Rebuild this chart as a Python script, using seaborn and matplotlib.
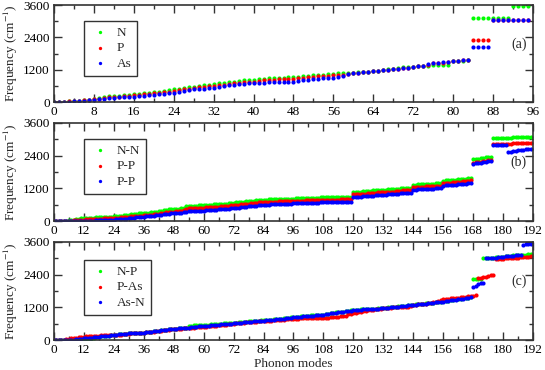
import pandas as pd
import matplotlib
matplotlib.use('Agg')
import matplotlib.pyplot as plt
from matplotlib.ticker import MultipleLocator
import seaborn as sns

# panel (a): single-atom layers, 96 modes
labels_a = ["N", "P", "As"]
freq_N = [0, 0, 0, 30, 40, 50, 60, 70, 110, 150, 195, 205,
          215, 230, 245, 265, 285, 300, 320, 340, 360, 390, 420, 440,
          470, 490, 520, 545, 570, 600, 630, 650, 670, 700, 720, 740,
          760, 790, 810, 820, 830, 850, 870, 880, 890, 900, 905, 915,
          925, 940, 960, 980, 1000, 1010, 1020, 1040, 1050, 1060, 1065, 1070,
          1080, 1100, 1110, 1130, 1150, 1170, 1190, 1210, 1230, 1260, 1290, 1305,
          1310, 1320, 1340, 1350, 1370, 1375, 1380, 1390, 1520, 1530, 1540, 1550,
          3130, 3130, 3130, 3130, 3130, 3130, 3130, 3130, 3550, 3550, 3550, 3550]
freq_P = [0, 0, 0, 20, 40, 50, 60, 70, 100, 130, 160, 175,
          185, 200, 215, 235, 250, 265, 280, 300, 320, 340, 365, 390,
          410, 440, 470, 500, 530, 550, 570, 590, 610, 630, 650, 670,
          690, 710, 730, 745, 760, 780, 800, 815, 830, 840, 850, 860,
          870, 885, 900, 920, 940, 950, 960, 975, 990, 1000, 1020, 1040,
          1060, 1080, 1100, 1120, 1140, 1160, 1180, 1200, 1215, 1230, 1250, 1270,
          1300, 1320, 1350, 1380, 1440, 1450, 1460, 1470, 1530, 1540, 1550, 1560,
          2300, 2300, 2300, 2300, 3040, 3040, 3040, 3040, 3040, 3040, 3040, 3040]
freq_As = [0, 0, 0, 10, 40, 50, 55, 65, 90, 110, 130, 150,
           165, 175, 185, 195, 200, 215, 230, 245, 265, 290, 310, 330,
           346, 380, 420, 445, 470, 485, 500, 508, 530, 560, 590, 620,
           640, 660, 680, 690, 695, 705, 715, 725, 735, 745, 750, 755,
           760, 780, 800, 820, 840, 860, 880, 900, 910, 940, 980, 1040,
           1060, 1080, 1100, 1120, 1140, 1160, 1180, 1200, 1215, 1230, 1250, 1270,
           1300, 1320, 1350, 1400, 1440, 1460, 1470, 1480, 1530, 1540, 1550, 1560,
           2050, 2050, 2050, 2050, 3040, 3040, 3040, 3040, 3040, 3040, 3040, 3040]

# panel (b): homo-bilayers, 192 modes
labels_b = ["N-N", "P-P", "P-P"]
freq_NN = [0, 0, 0, 0, 0, 0, 20, 40, 55, 70, 85, 100,
           105, 110, 115, 120, 125, 130, 135, 140, 145, 150, 155, 160,
           170, 180, 190, 200, 210, 220, 230, 245, 260, 270, 280, 285,
           290, 300, 310, 320, 330, 340, 350, 370, 390, 410, 425, 430,
           433, 440, 450, 460, 480, 540, 550, 555, 560, 565, 570, 575,
           580, 590, 600, 605, 610, 615, 620, 625, 630, 640, 650, 660,
           670, 680, 690, 700, 710, 720, 730, 740, 750, 760, 770, 775,
           780, 785, 790, 795, 800, 805, 810, 812, 815, 818, 820, 823,
           826, 830, 833, 836, 840, 843, 846, 850, 853, 856, 860, 863,
           866, 868, 870, 872, 874, 876, 878, 880, 882, 884, 886, 888,
           1065, 1070, 1075, 1080, 1085, 1090, 1100, 1110, 1120, 1130, 1140, 1145,
           1150, 1155, 1160, 1165, 1170, 1180, 1190, 1200, 1210, 1220, 1225, 1230,
           1336, 1340, 1345, 1350, 1355, 1360, 1365, 1370, 1375, 1380, 1385, 1390,
           1485, 1490, 1495, 1500, 1510, 1520, 1530, 1540, 1550, 1560, 1575, 1585,
           2264, 2275, 2290, 2305, 2320, 2335, 2345, 2350, 3043, 3045, 3048, 3050,
           3055, 3058, 3060, 3063, 3066, 3070, 3073, 3076, 3080, 3083, 3087, 3092]
freq_PP1 = [0, 0, 0, 0, 0, 0, 0, 10, 20, 30, 40, 50,
            55, 60, 65, 70, 75, 80, 85, 90, 95, 100, 105, 110,
            115, 120, 125, 130, 140, 150, 160, 170, 180, 190, 195, 200,
            205, 215, 225, 235, 245, 255, 265, 280, 300, 320, 335, 340,
            345, 350, 360, 370, 390, 450, 460, 465, 470, 475, 480, 485,
            490, 500, 510, 515, 520, 525, 530, 535, 540, 550, 560, 570,
            580, 590, 600, 610, 620, 630, 640, 650, 660, 670, 680, 685,
            690, 695, 700, 705, 710, 715, 720, 722, 725, 728, 730, 733,
            736, 740, 743, 746, 750, 753, 756, 760, 763, 766, 770, 773,
            776, 778, 780, 782, 784, 786, 788, 790, 792, 794, 796, 798,
            975, 980, 985, 990, 995, 1000, 1010, 1020, 1030, 1040, 1050, 1055,
            1060, 1065, 1070, 1075, 1080, 1090, 1100, 1110, 1120, 1130, 1135, 1140,
            1245, 1250, 1255, 1260, 1265, 1270, 1275, 1280, 1285, 1290, 1295, 1300,
            1395, 1400, 1405, 1410, 1420, 1430, 1440, 1450, 1460, 1470, 1485, 1495,
            2140, 2150, 2165, 2180, 2195, 2210, 2225, 2240, 2820, 2825, 2830, 2832,
            2835, 2838, 2840, 2843, 2846, 2850, 2853, 2856, 2860, 2863, 2866, 2870]
freq_PP2 = [0, 0, 0, 0, 0, 0, 0, 0, 0, 0, 0, 0,
            0, 0, 5, 10, 15, 20, 25, 30, 35, 40, 45, 50,
            55, 60, 65, 70, 80, 90, 100, 110, 120, 130, 140, 150,
            160, 170, 180, 190, 200, 210, 220, 230, 245, 260, 275, 285,
            290, 295, 300, 310, 330, 345, 355, 360, 365, 370, 375, 380,
            385, 395, 405, 410, 415, 420, 425, 430, 435, 445, 455, 465,
            475, 485, 495, 505, 515, 525, 535, 545, 555, 565, 575, 590,
            594, 600, 605, 610, 615, 620, 625, 628, 631, 634, 637, 640,
            643, 646, 650, 653, 656, 660, 663, 666, 670, 673, 676, 680,
            683, 686, 689, 692, 694, 696, 698, 700, 702, 704, 706, 708,
            880, 885, 890, 895, 900, 905, 915, 925, 935, 945, 955, 960,
            965, 970, 975, 980, 985, 995, 1005, 1015, 1025, 1035, 1040, 1045,
            1150, 1155, 1160, 1165, 1170, 1175, 1180, 1185, 1190, 1195, 1200, 1205,
            1299, 1305, 1310, 1315, 1325, 1335, 1345, 1355, 1365, 1375, 1385, 1398,
            2103, 2115, 2130, 2145, 2160, 2175, 2190, 2202, 2795, 2795, 2795, 2795,
            2795, 2795, 2536, 2550, 2560, 2575, 2590, 2600, 2615, 2630, 2645, 2661]

# panel (c): hetero-bilayers, 192 modes
labels_c = ["N-P", "P-As", "As-N"]
freq_NP = [0, 0, 0, 0, 0, 0, 0, 0, 0, 0, 0, 0,
           0, 0, 20, 50, 80, 100, 120, 130, 140, 150, 160, 170,
           185, 195, 205, 215, 225, 235, 245, 250, 255, 260, 265, 270,
           275, 290, 300, 310, 325, 335, 345, 355, 365, 380, 395, 405,
           412, 420, 430, 440, 450, 460, 520, 530, 540, 545, 550, 555,
           560, 565, 570, 575, 580, 590, 600, 605, 610, 615, 620, 625,
           630, 640, 650, 660, 670, 680, 690, 700, 705, 710, 715, 720,
           725, 730, 740, 750, 760, 770, 780, 790, 800, 810, 820, 830,
           840, 850, 860, 870, 880, 890, 900, 905, 910, 915, 920, 925,
           930, 945, 965, 985, 1005, 1015, 1025, 1035, 1045, 1055, 1070, 1090,
           1110, 1115, 1120, 1125, 1130, 1135, 1140, 1145, 1150, 1155, 1160, 1165,
           1175, 1185, 1195, 1205, 1215, 1225, 1235, 1245, 1255, 1265, 1275, 1285,
           1295, 1305, 1315, 1325, 1335, 1345, 1355, 1365, 1375, 1385, 1395, 1405,
           1415, 1430, 1445, 1460, 1475, 1490, 1505, 1515, 1525, 1540, 1555, 1575,
           2248, 2248, 2250, 2252, 3010, 3015, 3020, 3025, 3030, 3040, 3050, 3060,
           3065, 3075, 3085, 3095, 3105, 3115, 3125, 3130, 3135, 3140, 3145, 3150]
freq_PAs = [0, 0, 0, 0, 0, 20, 40, 60, 75, 90, 105, 115,
            122, 130, 140, 150, 155, 160, 165, 170, 175, 178, 180, 183,
            185, 190, 195, 200, 210, 220, 230, 240, 250, 258, 264, 268,
            271, 280, 290, 300, 310, 320, 330, 340, 350, 365, 380, 395,
            405, 410, 415, 420, 430, 440, 450, 455, 460, 465, 470, 475,
            480, 490, 500, 510, 520, 530, 540, 550, 560, 570, 580, 590,
            600, 610, 620, 630, 640, 650, 660, 665, 670, 680, 690, 695,
            700, 705, 710, 715, 720, 725, 730, 740, 750, 760, 770, 775,
            780, 785, 790, 792, 794, 796, 798, 799, 800, 800, 800, 800,
            800, 810, 820, 830, 840, 850, 860, 870, 880, 900, 940, 970,
            983, 1000, 1020, 1040, 1060, 1080, 1100, 1110, 1120, 1130, 1140, 1150,
            1160, 1170, 1180, 1190, 1200, 1205, 1210, 1215, 1220, 1225, 1230, 1240,
            1290, 1300, 1310, 1320, 1330, 1340, 1350, 1360, 1380, 1400, 1450, 1480,
            1500, 1510, 1520, 1530, 1540, 1550, 1560, 1570, 1580, 1590, 1600, 1610,
            1620, 1650, 2273, 2290, 2310, 2330, 2350, 2370, 2395, 2973, 2980, 2985,
            2990, 2995, 3000, 3010, 3015, 3020, 3030, 3040, 3045, 3050, 3060, 3071]
freq_AsN = [0, 0, 0, 0, 0, 0, 0, 0, 0, 20, 40, 55,
            62, 70, 80, 90, 100, 110, 120, 130, 140, 150, 160, 170,
            185, 195, 205, 215, 225, 235, 240, 245, 250, 255, 260, 265,
            271, 285, 300, 310, 320, 330, 340, 350, 360, 375, 390, 400,
            408, 415, 425, 435, 445, 455, 460, 470, 480, 490, 500, 505,
            510, 520, 530, 540, 550, 560, 570, 575, 580, 590, 600, 605,
            610, 620, 630, 640, 650, 660, 670, 680, 685, 690, 700, 705,
            711, 720, 730, 740, 750, 760, 770, 780, 790, 800, 810, 820,
            830, 840, 850, 860, 870, 880, 890, 895, 900, 905, 910, 915,
            921, 940, 960, 980, 1000, 1010, 1020, 1030, 1040, 1050, 1060, 1080,
            1105, 1110, 1115, 1120, 1125, 1130, 1135, 1140, 1145, 1150, 1155, 1160,
            1170, 1180, 1190, 1200, 1210, 1220, 1230, 1240, 1250, 1260, 1270, 1280,
            1290, 1300, 1310, 1320, 1330, 1340, 1350, 1360, 1370, 1380, 1390, 1400,
            1412, 1425, 1440, 1455, 1470, 1485, 1500, 1510, 1520, 1535, 1550, 1573,
            1964, 2000, 2040, 2080, 2112, 3010, 3015, 3020, 3025, 3030, 3040, 3050,
            3060, 3070, 3080, 3090, 3100, 3110, 3120, 3132, 3500, 3510, 3525, 3537]

colors = ["#00ff00", "#ff0000", "#0000ff"]

sns.set_style("ticks")
plt.rcParams['font.family'] = ['Liberation Serif', 'DejaVu Serif']
plt.rcParams['mathtext.fontset'] = 'stix'

fig = plt.figure(figsize=(5.45, 3.70), dpi=100)
panels = [
    ([freq_N, freq_P, freq_As], labels_a, 96, 8, "(a)", [0.099, 0.7243, 0.879, 0.262], 0.84),
    ([freq_NN, freq_PP1, freq_PP2], labels_b, 192, 12, "(b)", [0.099, 0.4027, 0.879, 0.265], 0.84),
    ([freq_NP, freq_PAs, freq_AsN], labels_c, 192, 12, "(c)", [0.099, 0.081, 0.879, 0.265], 0.82),
]

for series, labels, nmodes, step, tag, rect, leg_top in panels:
    ax = fig.add_axes(rect)
    for vals, lab, col in zip(series, labels, colors):
        df = pd.DataFrame({"mode": range(len(vals)), "freq": vals})
        sns.scatterplot(data=df, x="mode", y="freq", ax=ax, color=col, s=9,
                        linewidth=0, label=lab, legend=True)
    ax.set_xlim(0, nmodes)
    ax.set_ylim(0, 3600)
    ax.xaxis.set_major_locator(MultipleLocator(step))
    ax.xaxis.set_minor_locator(MultipleLocator(step / 2))
    ax.yaxis.set_major_locator(MultipleLocator(1200))
    ax.yaxis.set_minor_locator(MultipleLocator(600))
    ax.tick_params(which='both', direction='in', top=True, right=True,
                   labelsize=9.5, pad=3, width=1, colors='#333333', labelcolor='black')
    ax.tick_params(which='major', length=6)
    ax.tick_params(which='minor', length=3)
    for sp in ax.spines.values():
        sp.set_linewidth(1.2)
        sp.set_color('#333333')
    ax.set_xlabel("")
    ax.set_ylabel("Frequency (cm$^{-1}$)", fontsize=9.5, labelpad=2)
    ax.text(0.97, 0.6, tag, transform=ax.transAxes, fontsize=10, ha='center', va='center')
    leg = ax.legend(loc='upper left', bbox_to_anchor=(0.063, leg_top), fontsize=9.5,
                    frameon=True, fancybox=False, edgecolor='#333333', framealpha=1,
                    borderaxespad=0, handletextpad=0.5, borderpad=0.45,
                    labelspacing=0.25, markerscale=0.8, handlelength=1.5)
    leg.get_frame().set_linewidth(1.0)

ax.set_xlabel("Phonon modes", fontsize=9.5, labelpad=1)

plt.savefig("out.png", dpi=100)
plt.close()
